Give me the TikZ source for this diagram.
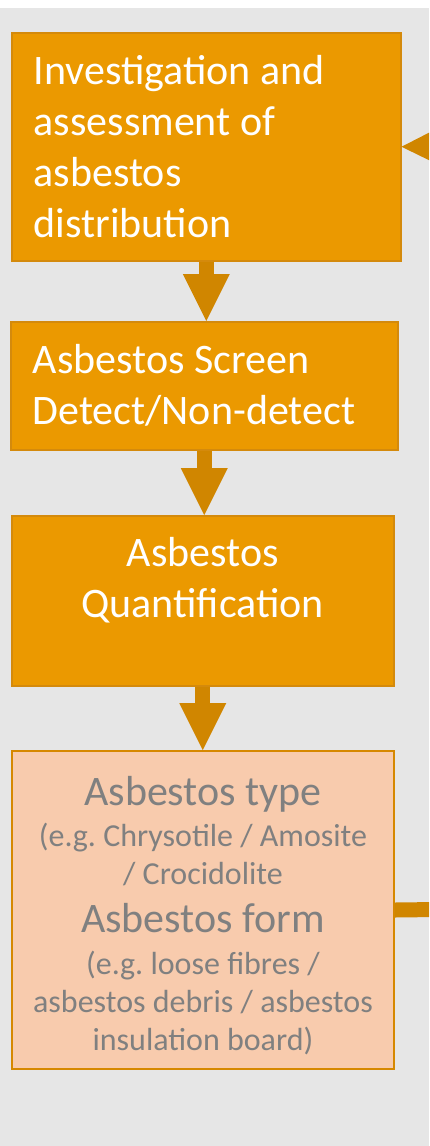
\documentclass[tikz,border=0pt]{standalone}
\usepackage{fontspec}
\setmainfont{Carlito}
\usetikzlibrary{arrows.meta}
\definecolor{boxorange}{RGB}{235,153,0}
\definecolor{edgeorange}{RGB}{212,138,12}
\definecolor{arroworange}{RGB}{208,134,0}
\definecolor{boxpeach}{RGB}{248,203,173}
\definecolor{edgepeach}{RGB}{214,136,0}
\definecolor{bggray}{RGB}{230,230,230}
\definecolor{txtgray}{RGB}{128,128,128}
\newcommand{\bigtxt}{\fontsize{42}{51}\selectfont}
\newcommand{\smalltxt}{\fontsize{32}{38}\selectfont}
\frenchspacing

\begin{document}
\begin{tikzpicture}[x=1pt,y=-1pt,
  obox/.style={draw=edgeorange,line width=1.5pt,fill=boxorange,text=white,anchor=north west,inner xsep=22pt,inner ysep=0pt,font=\bigtxt},
  flow/.style={draw=arroworange,line width=15pt,-{Triangle[width=47pt,length=47pt,line width=0pt]}}]
\useasboundingbox (0,0) rectangle (429,1146);
\clip (0,0) rectangle (429,1146);
\fill[bggray] (0,8) rectangle (429,1146);
% steps
\node[obox,text width=345pt,minimum height=228pt,align=flush left] (inv) at (11,32) {Investigation and\\assessment of\\asbestos\\distribution};
\node[obox,text width=343pt,minimum height=128pt,align=flush left] (screen) at (10,321) {Asbestos Screen\\Detect/Non-detect};
\node[obox,text width=338pt,minimum height=170pt,align=flush center] (quant) at (11,515) {Asbestos\\Quantification\rule[-47pt]{0pt}{0pt}};
\node[obox,draw=edgepeach,line width=2pt,fill=boxpeach,text=txtgray,inner xsep=10pt,text width=362pt,minimum height=318pt,align=flush center] (info) at (11,750)
  {\bigtxt\rule{0pt}{40pt}Asbestos type\\[3pt]
   \smalltxt (e.g. Chrysotile / Amosite\\
   / Crocidolite\\[-3pt]
   \bigtxt Asbestos form\\[4pt]
   \smalltxt (e.g. loose fibres /\\
   asbestos debris / asbestos\\
   insulation board)\par};
% connectors
\draw[flow] (inv.south) -- (inv.south |- screen.north);
\draw[flow] (screen.south) -- (screen.south |- quant.north);
\draw[flow] (quant.south) -- (quant.south |- info.north);
\coordinate (feedin) at (480,146);
\coordinate (feedout) at (480,909);
\draw[flow] (feedin) -- (inv.east);
\draw[draw=arroworange,line width=15pt] (info.east) -- (feedout);
\end{tikzpicture}
\end{document}
